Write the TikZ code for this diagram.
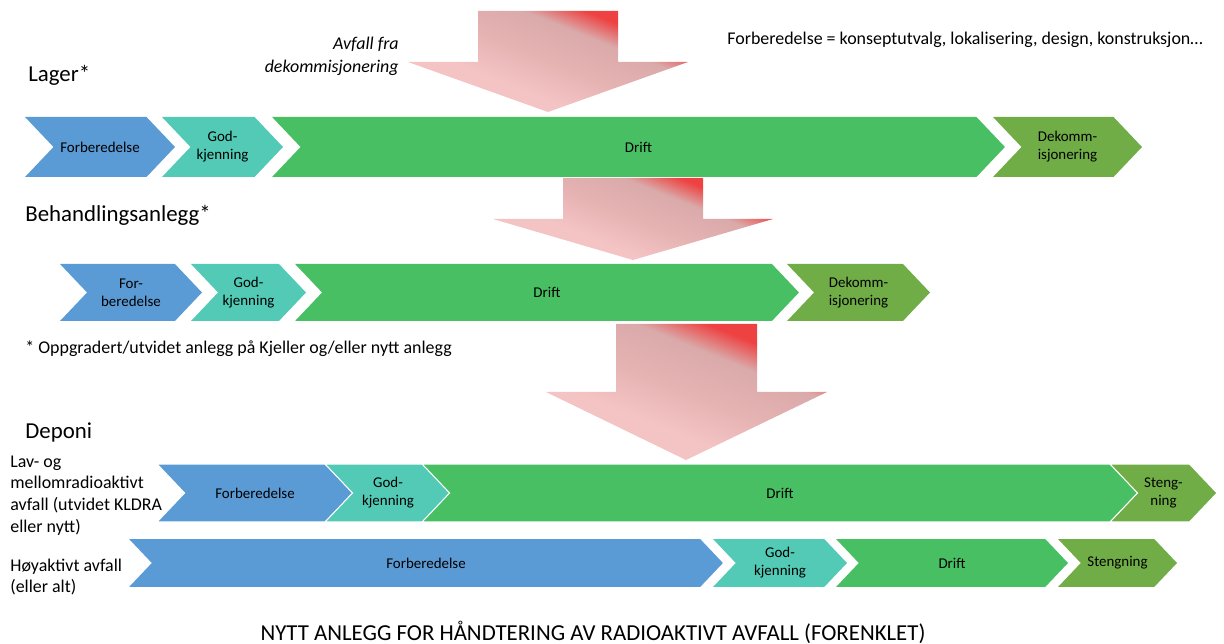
\documentclass[tikz,border=0pt]{standalone}
\usepackage{fontspec}
\setmainfont{Carlito}
\usepackage{tikz}
\usetikzlibrary{shapes.symbols}
\usepackage{xcolor}
\definecolor{cblue}{HTML}{5B9BD5}
\definecolor{cteal}{HTML}{52CAB6}
\definecolor{cgreen}{HTML}{48BF63}
\definecolor{colive}{HTML}{70AD47}
\definecolor{pinkA}{HTML}{F4C3C3}
\definecolor{pinkB}{HTML}{E6B3B3}
\definecolor{pinkC}{HTML}{DAA9A9}
\definecolor{redA}{HTML}{EE4242}
\pgfdeclareverticalshading{arrowfade}{100bp}{color(0bp)=(pinkA); color(38bp)=(pinkA);
  color(50bp)=(pinkB); color(62.5bp)=(pinkC); color(70bp)=(redA); color(100bp)=(redA)}

\begin{document}
\begin{tikzpicture}[x=0.02cm, y=-0.02cm,
    chev/.style={signal, signal from=west, signal to=east, signal pointer angle=93,
                 inner sep=0pt, align=center, font=\fontsize{8.5}{10.2}\selectfont},
    prep/.style={chev, fill=cblue},
    approve/.style={chev, fill=cteal},
    ops/.style={chev, fill=cgreen},
    closing/.style={chev, fill=colive},
    joined/.style={draw=white, line width=0.6pt},
    head/.style={anchor=west, inner sep=0pt, font=\fontsize{13}{15.6}\selectfont},
    note/.style={anchor=west, inner sep=0pt, font=\fontsize{10.2}{12.3}\selectfont},
    side/.style={anchor=west, inner sep=0pt, align=left, font=\fontsize{10.2}{12.3}\selectfont},
    bigarrow/.style={shading=arrowfade, shading angle=-22}
]
\useasboundingbox (0,0) rectangle (1224,644);

% Lager
\shade[bigarrow] (478,11) -- (618,11) -- (618,62) -- (688,62) -- (548,112) -- (408,62) -- (478,62) -- cycle;
\node[anchor=east, inner sep=0pt, align=right, font=\fontsize{10.2}{13}\selectfont\itshape] (kilde) at (399,56) {Avfall fra\\dekommisjonering};
\node[note] (forklaring) at (727,40) {Forberedelse = konseptutvalg, lokalisering, design, konstruksjon…};
\node[head] (lager) at (28,75) {Lager*};

\node[prep, minimum width=3cm, minimum height=1.2cm] (l1) at (100,147) {Forberedelse};
\node[approve, minimum width=2.42cm, minimum height=1.2cm] (l2) at (222.5,147) {God-\\kjenning};
\node[ops, minimum width=14.66cm, minimum height=1.2cm] (l3) at (638.5,147) {Drift};
\node[closing, minimum width=2.98cm, minimum height=1.2cm] (l4) at (1067.5,147) {Dekomm-\\isjonering};

% Behandlingsanlegg
\shade[bigarrow] (563,178) -- (703,178) -- (703,219) -- (773,219) -- (633,260) -- (493,219) -- (563,219) -- cycle;
\node[head] (behandling) at (25,215) {Behandlingsanlegg*};

\node[prep, minimum width=2.84cm, minimum height=1.14cm] (b1) at (131,292.5) {For-\\beredelse};
\node[approve, minimum width=2.3cm, minimum height=1.14cm] (b2) at (248.5,292.5) {God-\\kjenning};
\node[ops, minimum width=10.08cm, minimum height=1.14cm] (b3) at (547,292.5) {Drift};
\node[closing, minimum width=2.86cm, minimum height=1.14cm] (b4) at (858.5,292.5) {Dekomm-\\isjonering};

\node[note] (fotnote) at (25,349) {* Oppgradert/utvidet anlegg på Kjeller og/eller nytt anlegg};

% Deponi
\shade[bigarrow] (616,324) -- (757,324) -- (757,392) -- (827,392) -- (686,460) -- (546,392) -- (616,392) -- cycle;
\node[head] (deponi) at (25,432) {Deponi};

\node[side] (lavmel) at (10,495.5) {Lav- og\\mellomradioaktivt\\avfall (utvidet KLDRA\\eller nytt)};
\node[prep, joined, minimum width=3.92cm, minimum height=1.16cm] (d1) at (255,493) {Forberedelse};
\node[approve, joined, minimum width=2.52cm, minimum height=1.16cm] (d2) at (388,493) {God-\\kjenning};
\node[ops, joined, minimum width=14.32cm, minimum height=1.16cm] (d3) at (780,493) {Drift};
\node[closing, joined, minimum width=2.14cm, minimum height=1.16cm] (d4) at (1163.5,493) {Steng-\\ning};

\node[side] (hoy) at (10,577) {Høyaktivt avfall\\(eller alt)};
\node[prep, minimum width=11.88cm, minimum height=0.96cm] (h1) at (426,563) {Forberedelse};
\node[approve, minimum width=2.68cm, minimum height=0.96cm] (h2) at (780,563) {God-\\kjenning};
\node[ops, minimum width=4.64cm, minimum height=0.96cm] (h3) at (952,563) {Drift};
\node[closing, minimum width=2.38cm, minimum height=0.96cm] (h4) at (1117.5,563) {Stengning};

\node[inner sep=0pt, font=\fontsize{13}{15.6}\selectfont] (tittel) at (593,632) {NYTT ANLEGG FOR HÅNDTERING AV RADIOAKTIVT AVFALL (FORENKLET)};

\end{tikzpicture}
\end{document}
